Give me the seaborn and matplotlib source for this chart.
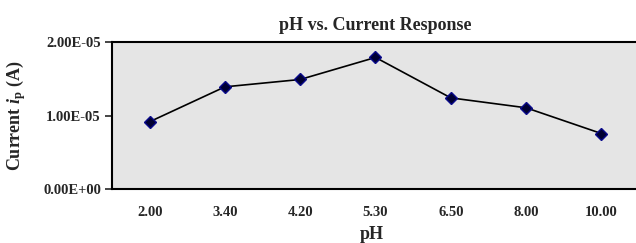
import matplotlib
matplotlib.use("Agg")
import matplotlib.pyplot as plt
import seaborn as sns
from matplotlib.ticker import FuncFormatter

# data
ph_labels = ["2.00", "3.40", "4.20", "5.30", "6.50", "8.00", "10.00"]
current = [9.15e-6, 1.39e-5, 1.49e-5, 1.79e-5, 1.24e-5, 1.105e-5, 7.55e-6]
y_ticks = [0.0, 1e-5, 2e-5]

sns.set_style("white")
plt.rcParams["font.family"] = ["Liberation Serif", "DejaVu Serif"]
plt.rcParams["font.weight"] = "bold"
plt.rcParams["mathtext.fontset"] = "custom"
plt.rcParams["mathtext.rm"] = "Liberation Serif:bold"
plt.rcParams["mathtext.it"] = "Liberation Serif:italic:bold"

W, H = 636, 243
fig = plt.figure(figsize=(W / 100, H / 100), dpi=100)
# plot box in pixels: left 112, right 639 (runs off the edge), top 42, bottom 189
ax = fig.add_axes([112 / W, 1 - 189 / H, (639 - 112) / W, (189 - 42) / H])
ax.set_facecolor("#e5e5e5")

sns.lineplot(x=ph_labels, y=current, sort=False, ax=ax, color="black",
             linewidth=1.2, marker="D", markersize=6.5,
             markerfacecolor="#000033", markeredgecolor="#0a0a8c",
             markeredgewidth=1.0)

ax.set_xlim(-0.5, 6.5)
ax.set_ylim(0, 2e-5)
ax.set_yticks(y_ticks)
ax.yaxis.set_major_formatter(FuncFormatter(lambda v, p: f"{v:.2E}"))

for s in ax.spines.values():
    s.set_visible(True)
    s.set_color("black")
    s.set_linewidth(1.5)

ax.tick_params(axis="y", left=True, length=5, width=1.2, direction="out",
               labelsize=10.5, pad=3)
ax.tick_params(axis="x", bottom=False, labelsize=10.5, pad=9)
for lab in ax.get_xticklabels() + ax.get_yticklabels():
    lab.set_fontweight("bold")

ax.set_title("pH vs. Current Response", fontsize=13, fontweight="bold", pad=9)
ax.set_xlabel("pH", fontsize=13, fontweight="bold")
ax.set_ylabel("Current $\\mathit{i}_\\mathrm{p}$ (A)", fontsize=13,
              fontweight="bold")
ax.xaxis.set_label_coords((372 - 112) / (639 - 112), -(226 - 189) / (189 - 42))
ax.yaxis.set_label_coords(-(112 - 28) / (639 - 112), 0.5)

fig.savefig("out.png", dpi=100)
